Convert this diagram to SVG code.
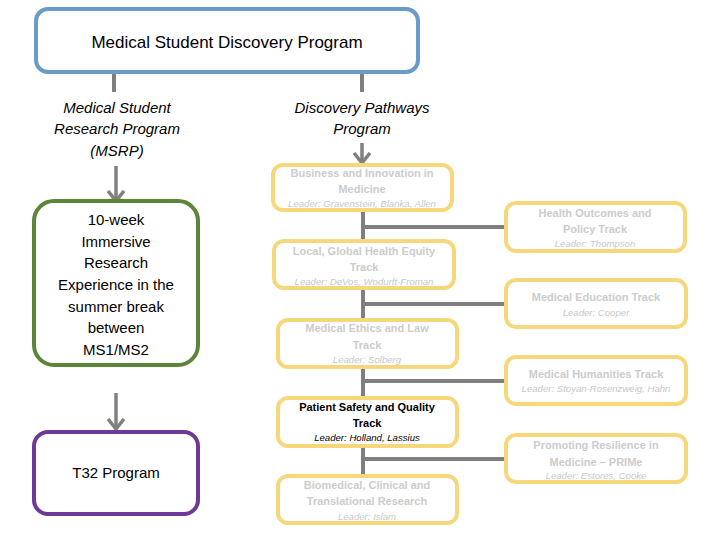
<svg xmlns="http://www.w3.org/2000/svg" width="720" height="540" viewBox="0 0 720 540">
<style>
  .bg{fill:#ffffff}
  .conn{stroke:#7f7f7f;stroke-width:4;fill:none}
  .arr{stroke:#808080;stroke-width:3.5;fill:none}
  .blue{fill:#fff;stroke:#6b9bc9;stroke-width:4}
  .green{fill:#fff;stroke:#5b8639;stroke-width:4}
  .purple{fill:#fff;stroke:#6e3a98;stroke-width:4}
  .gold{fill:#fff;stroke:#f6d77c;stroke-width:4}
  text{font-family:"Liberation Sans",Arial,sans-serif;text-anchor:middle}
  .big{font-size:17px;fill:#000}
  .ital{font-size:15px;font-style:italic;fill:#000}
  .body{font-size:15px;fill:#000}
  .tt{font-size:11px;font-weight:bold;fill:#cccccc}
  .ld{font-size:9.6px;font-style:italic;fill:#c8c8c8}
  .tt.on{fill:#000}
  .ld.on{fill:#000}
</style>
<defs>
  <marker id="ah" markerUnits="userSpaceOnUse" markerWidth="22" markerHeight="22" refX="11" refY="11" orient="auto" viewBox="0 0 22 22">
    <polyline points="1,3 11,11 1,19" fill="none" stroke="#808080" stroke-width="3.5"/>
  </marker>
</defs>
<rect class="bg" x="0" y="0" width="720" height="540"/>

<g id="connectors">
  <line class="conn" x1="114" y1="72" x2="114" y2="92"/>
  <line class="conn" x1="362" y1="72" x2="362" y2="92"/>
  <line class="arr" x1="116" y1="166" x2="116" y2="201" marker-end="url(#ah)"/>
  <line class="arr" x1="116" y1="393" x2="116" y2="429" marker-end="url(#ah)"/>
  <line class="arr" x1="362" y1="143" x2="362" y2="163" marker-end="url(#ah)"/>
  <line class="conn" x1="363" y1="208" x2="363" y2="476"/>
  <line class="conn" x1="361" y1="227" x2="506" y2="227"/>
  <line class="conn" x1="361" y1="304" x2="506" y2="304"/>
  <line class="conn" x1="361" y1="381" x2="506" y2="381"/>
  <line class="conn" x1="361" y1="459" x2="506" y2="459"/>
</g>

<g id="discovery-program">
  <rect class="blue" x="36" y="9" width="382" height="63" rx="12"/>
  <text class="big" x="227" y="48">Medical Student Discovery Program</text>
</g>

<g id="msrp">
  <text class="ital" x="117" y="113">Medical Student</text>
  <text class="ital" x="117" y="134">Research Program</text>
  <text class="ital" x="117" y="156">(MSRP)</text>
</g>

<g id="pathways">
  <text class="ital" x="362" y="113">Discovery Pathways</text>
  <text class="ital" x="362" y="134">Program</text>
</g>

<g id="immersive">
  <rect class="green" x="34" y="201" width="164" height="164" rx="20"/>
  <text class="body" x="116" y="225">10-week</text>
  <text class="body" x="116" y="247">Immersive</text>
  <text class="body" x="116" y="268">Research</text>
  <text class="body" x="116" y="290">Experience in the</text>
  <text class="body" x="116" y="312">summer break</text>
  <text class="body" x="116" y="333">between</text>
  <text class="body" x="116" y="355">MS1/MS2</text>
</g>

<g id="t32">
  <rect class="purple" x="34" y="432" width="164" height="82" rx="14"/>
  <text class="body" x="116" y="478">T32 Program</text>
</g>

<g id="business">
  <rect class="gold" x="273" y="165" width="179" height="45" rx="10"/>
  <text class="tt" x="362" y="177">Business and Innovation in</text>
  <text class="tt" x="362" y="193">Medicine</text>
  <text class="ld" x="362" y="207">Leader: Gravenstein, Blanka, Allen</text>
</g>

<g id="global-health">
  <rect class="gold" x="274" y="241" width="180" height="47" rx="10"/>
  <text class="tt" x="364" y="255">Local, Global Health Equity</text>
  <text class="tt" x="364" y="271">Track</text>
  <text class="ld" x="364" y="285">Leader: DeVos, Wodurft-Froman</text>
</g>

<g id="ethics">
  <rect class="gold" x="278" y="320" width="179" height="47" rx="10"/>
  <text class="tt" x="367" y="332">Medical Ethics and Law</text>
  <text class="tt" x="367" y="349">Track</text>
  <text class="ld" x="367" y="363">Leader: Solberg</text>
</g>

<g id="patient-safety">
  <rect class="gold" x="278" y="398" width="179" height="48" rx="10"/>
  <text class="tt on" x="367" y="411">Patient Safety and Quality</text>
  <text class="tt on" x="367" y="427">Track</text>
  <text class="ld on" x="367" y="441">Leader: Holland, Lassius</text>
</g>

<g id="biomedical">
  <rect class="gold" x="278" y="476" width="179" height="47" rx="10"/>
  <text class="tt" x="367" y="489">Biomedical, Clinical and</text>
  <text class="tt" x="367" y="505">Translational Research</text>
  <text class="ld" x="367" y="520">Leader: Islam</text>
</g>

<g id="health-outcomes">
  <rect class="gold" x="506" y="203" width="179" height="48" rx="10"/>
  <text class="tt" x="595" y="217">Health Outcomes and</text>
  <text class="tt" x="595" y="233">Policy Track</text>
  <text class="ld" x="595" y="247">Leader: Thompson</text>
</g>

<g id="med-education">
  <rect class="gold" x="506" y="280" width="180" height="47" rx="10"/>
  <text class="tt" x="596" y="301">Medical Education Track</text>
  <text class="ld" x="596" y="316">Leader: Cooper</text>
</g>

<g id="humanities">
  <rect class="gold" x="506" y="357" width="180" height="47" rx="10"/>
  <text class="tt" x="596" y="378">Medical Humanities Track</text>
  <text class="ld" x="596" y="392">Leader: Stoyan-Rosenzweig, Hahn</text>
</g>

<g id="prime">
  <rect class="gold" x="506" y="435" width="180" height="47" rx="10"/>
  <text class="tt" x="596" y="449">Promoting Resilience in</text>
  <text class="tt" x="596" y="466">Medicine – PRIMe</text>
  <text class="ld" x="596" y="479">Leader: Estores, Cooke</text>
</g>
</svg>
